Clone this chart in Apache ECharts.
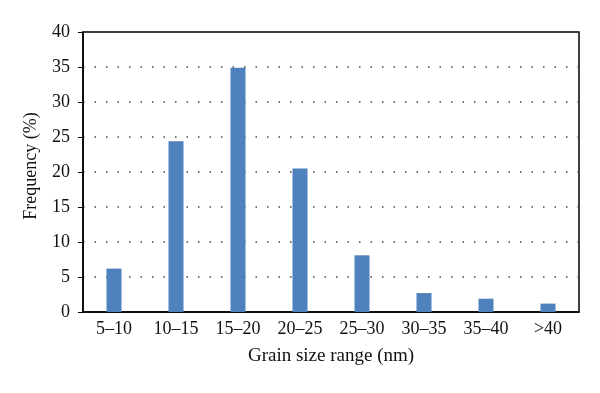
<!DOCTYPE html>
<html><head><meta charset="utf-8">
<script src="https://cdn.jsdelivr.net/npm/echarts@6/dist/echarts.min.js"></script>
<style>html,body{margin:0;padding:0;background:#fff}#c{width:600px;height:393px}</style>
</head><body><div id="c"></div>
<script>
var categories = ['5–10','10–15','15–20','20–25','25–30','30–35','35–40','>40'];
var frequency = [6.2, 24.4, 34.9, 20.5, 8.1, 2.7, 1.9, 1.2];
var yTicks = [0, 5, 10, 15, 20, 25, 30, 35, 40];
var font = '"Liberation Serif", "DejaVu Serif", serif';
var chart = echarts.init(document.getElementById('c'));
chart.setOption({
  animation: false,
  grid: {left: 83, right: 21, top: 32, bottom: 81, show: true, borderColor: '#000', borderWidth: 1.5, backgroundColor: 'transparent'},
  xAxis: {
    type: 'category', data: categories,
    name: 'Grain size range (nm)', nameLocation: 'middle', nameGap: 35,
    nameTextStyle: {fontFamily: font, fontSize: 19, color: '#111', verticalAlign: 'top'},
    axisLine: {lineStyle: {color: '#000', width: 1.5}},
    axisTick: {show: false},
    axisLabel: {fontFamily: font, fontSize: 18, color: '#111', margin: 8}
  },
  yAxis: {
    type: 'value', min: yTicks[0], max: yTicks[yTicks.length-1], interval: 5,
    name: 'Frequency (%)', nameLocation: 'middle', nameGap: 43,
    nameTextStyle: {fontFamily: font, fontSize: 18, color: '#111', padding: [0, 0, 0, 12]},
    axisLine: {show: true, lineStyle: {color: '#000', width: 1.5}},
    axisTick: {show: true, length: 5, lineStyle: {color: '#000'}},
    axisLabel: {fontFamily: font, fontSize: 18, color: '#111', margin: 13},
    splitLine: {show: true, lineStyle: {color: '#444', width: 1.5, type: [1.5, 10]}}
  },
  series: [{
    type: 'bar', data: frequency, barWidth: 15,
    itemStyle: {color: '#4f81bd'}
  }]
});
</script></body></html>
